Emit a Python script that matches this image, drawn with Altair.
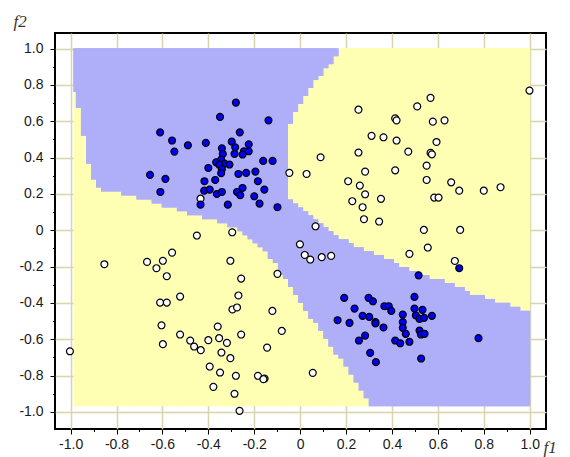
import altair as alt
import numpy as np
import pandas as pd

# ---- class "blue" samples (f1, f2)
blue_x = [-0.280, -0.349, -0.138, -0.263, -0.610, -0.558, -0.548, -0.489, -0.411, -0.298,
          -0.283, -0.224, -0.341, -0.245, -0.224, -0.286, -0.251, -0.337, -0.366, -0.344,
          -0.330, -0.308, -0.352, -0.400, -0.341, -0.344, -0.269, -0.235, -0.195, -0.161,
          -0.120, -0.417, -0.370, -0.184, -0.418, -0.394, -0.363, -0.341, -0.275, -0.261,
          -0.251, -0.156, -0.200, -0.177, -0.099, -0.315, -0.434, -0.654, -0.587, -0.609,
          0.693, 0.516, 0.192, 0.298, 0.317, 0.498, 0.237, 0.367, 0.386, 0.397,
          0.498, 0.533, 0.447, 0.504, 0.520, 0.540, 0.574, 0.272, 0.301, 0.163,
          0.215, 0.328, 0.328, 0.447, 0.447, 0.363, 0.520, 0.526, 0.542, 0.460,
          0.283, 0.256, 0.414, 0.436, 0.476, 0.305, 0.330, 0.527, 0.777]
blue_y = [0.703, 0.624, 0.605, 0.539, 0.539, 0.494, 0.433, 0.468, 0.481, 0.488,
          0.457, 0.473, 0.451, 0.435, 0.435, 0.420, 0.417, 0.420, 0.374, 0.389,
          0.367, 0.362, 0.360, 0.343, 0.336, 0.314, 0.310, 0.316, 0.323, 0.382,
          0.382, 0.270, 0.277, 0.270, 0.218, 0.224, 0.200, 0.211, 0.211, 0.193,
          0.233, 0.224, 0.187, 0.147, 0.127, 0.141, 0.141, 0.305, 0.283, 0.211,
          -0.209, -0.248, -0.372, -0.372, -0.391, -0.367, -0.431, -0.418, -0.418, -0.444,
          -0.431, -0.438, -0.464, -0.469, -0.488, -0.482, -0.471, -0.471, -0.477, -0.495,
          -0.510, -0.505, -0.513, -0.505, -0.537, -0.535, -0.552, -0.574, -0.570, -0.570,
          -0.580, -0.607, -0.607, -0.622, -0.614, -0.675, -0.726, -0.706, -0.594]

# ---- class "white" samples (f1, f2)
white_x = [0.999, 0.568, 0.510, 0.254, 0.414, 0.420, 0.578, 0.629, 0.311, 0.363,
           0.420, 0.594, 0.471, 0.254, 0.568, 0.574, 0.089, 0.551, -0.047, 0.028,
           0.283, 0.414, 0.209, 0.260, 0.283, 0.551, 0.658, 0.693, 0.800, 0.873,
           0.584, 0.603, 0.227, 0.352, 0.272, 0.278, 0.344, 0.067, 0.539, 0.697,
           0.556, 0.476, 0.674, -0.001, 0.020, 0.044, 0.094, 0.135, -0.434,
           -0.450, -0.296, -0.558, -0.667, -0.626, -0.598, -0.853, -0.581, -0.304, -0.257,
           -0.099, -0.523, -0.610, -0.581, -0.269, -0.295, -0.275, -0.121, -0.080, -0.604,
           -0.359, -0.523, -0.257, -0.598, -0.479, -0.462, -0.433, -0.400, -0.353, -0.319,
           -0.343, -0.304, -0.144, -0.394, -0.349, -0.280, -0.184, -0.155, -0.160, -0.378,
           -0.286, -0.264, -1.003, 0.055]
white_y = [0.769, 0.729, 0.682, 0.664, 0.616, 0.605, 0.598, 0.605, 0.520, 0.512,
           0.494, 0.486, 0.433, 0.428, 0.426, 0.418, 0.402, 0.356, 0.316, 0.310,
           0.323, 0.330, 0.270, 0.246, 0.198, 0.277, 0.264, 0.218, 0.218, 0.237,
           0.180, 0.180, 0.160, 0.173, 0.127, 0.061, 0.048, 0.022, 0.002, 0.002,
           -0.095, -0.130, -0.169, -0.077, -0.136, -0.161, -0.148, -0.141, 0.174,
           -0.029, -0.011, -0.123, -0.174, -0.209, -0.168, -0.187, -0.253, -0.168, -0.266,
           -0.240, -0.365, -0.398, -0.398, -0.359, -0.436, -0.425, -0.444, -0.554, -0.523,
           -0.530, -0.574, -0.574, -0.627, -0.607, -0.640, -0.660, -0.605, -0.594, -0.620,
           -0.673, -0.704, -0.646, -0.750, -0.783, -0.801, -0.801, -0.816, -0.820, -0.862,
           -0.900, -0.994, -0.666, -0.785]

# ---- outline of the "blue" decision region (clockwise)
region_x = [-1.020, 0.184, 0.163, 0.121, 0.076, 0.029, -0.014, -0.036, -0.061, -0.061,
            -0.036, 0.014, 0.080, 0.131, 0.200, 0.260, 0.330, 0.407, 0.494, 0.581,
            0.668, 0.741, 0.842, 0.929, 1.020, 1.020, 0.320, 0.285, 0.248, 0.219,
            0.190, 0.161, 0.132, 0.103, 0.074, 0.038, 0.009, -0.013, -0.042, -0.078,
            -0.108, -0.151, -0.174, -0.203, -0.247, -0.290, -0.349, -0.378, -0.465, -0.500,
            -0.573, -0.617, -0.683, -0.726, -0.790, -0.860, -0.875, -0.897, -0.915, -0.940,
            -0.962, -0.984, -1.020]
region_y = [1.020, 1.020, 0.967, 0.903, 0.829, 0.756, 0.655, 0.609, 0.527, 0.215,
            0.169, 0.105, 0.050, -0.005, -0.055, -0.095, -0.130, -0.171, -0.226, -0.262,
            -0.299, -0.345, -0.381, -0.422, -0.455, -0.990, -0.990, -0.914, -0.849, -0.785,
            -0.739, -0.684, -0.629, -0.583, -0.528, -0.473, -0.418, -0.363, -0.308, -0.253,
            -0.189, -0.124, -0.097, -0.051, -0.014, 0.013, 0.037, 0.059, 0.081, 0.101,
            0.123, 0.147, 0.169, 0.184, 0.206, 0.206, 0.233, 0.279, 0.325, 0.481,
            0.655, 0.765, 0.800]

tick_values = [-1.0, -0.9, -0.8, -0.7, -0.6, -0.5, -0.4, -0.3, -0.2, -0.1, 0.0,
               0.1, 0.2, 0.3, 0.4, 0.5, 0.6, 0.7, 0.8, 0.9, 1.0]

# evaluated area and its raster
AREA_X0, AREA_X1 = -0.988, 1.002
AREA_Y0, AREA_Y1 = -0.969, 1.004
GRID_X0, CELL_W, N_COLS = -0.999, 0.022, 91
GRID_Y0, CELL_H, N_ROWS = -0.969, 0.0219, 90

YELLOW = "#ffffb4"
LILAC = "#afaff9"


def inside(px, py, vx, vy):
    res = np.zeros(px.shape, dtype=bool)
    j = len(vx) - 1
    for i in range(len(vx)):
        xi, yi, xj, yj = vx[i], vy[i], vx[j], vy[j]
        if yi != yj:
            cross = ((yi > py) != (yj > py)) & (px < (xj - xi) * (py - yi) / (yj - yi) + xi)
            res ^= cross
        j = i
    return res


cx = GRID_X0 + CELL_W * (np.arange(N_COLS) + 0.5)
cy = GRID_Y0 + CELL_H * (np.arange(N_ROWS) + 0.5)
CX, CY = np.meshgrid(cx, cy, indexing="ij")
mask = inside(CX, CY, np.array(region_x), np.array(region_y))

# per column: list of blue runs (bottom, top)
col_runs = []
for i in range(N_COLS):
    col = mask[i]
    runs = []
    j = 0
    while j < N_ROWS:
        if col[j]:
            k = j
            while k < N_ROWS and col[k]:
                k += 1
            runs.append((GRID_Y0 + CELL_H * j, min(GRID_Y0 + CELL_H * k, AREA_Y1)))
            j = k
        else:
            j += 1
    col_runs.append(runs)

rect_rows = []
for i in range(N_COLS):
    x0 = max(GRID_X0 + CELL_W * i, AREA_X0)
    x1 = min(GRID_X0 + CELL_W * (i + 1), AREA_X1)
    for lo, hi in col_runs[i]:
        rect_rows.append({"x": x0, "x2": x1, "y": lo, "y2": hi})
cells = pd.DataFrame(rect_rows)


def step_table(part):
    idx = [i for i in range(N_COLS) if len(col_runs[i]) > part]
    rows = []
    for i in idx:
        lo, hi = col_runs[i][part]
        rows.append({"x": float(max(GRID_X0 + CELL_W * i, AREA_X0)), "lo": float(lo), "hi": float(hi)})
    if idx:
        lo, hi = col_runs[idx[-1]][part]
        rows.append({"x": float(min(GRID_X0 + CELL_W * (idx[-1] + 1), AREA_X1)),
                     "lo": float(lo), "hi": float(hi)})
    return pd.DataFrame(rows)


band_df = step_table(0)
notch_df = step_table(1)

area = pd.DataFrame({"x": [AREA_X0], "x2": [AREA_X1], "y": [AREA_Y0], "y2": [AREA_Y1]})
blue_df = pd.DataFrame({"x": blue_x, "y": blue_y})
white_df = pd.DataFrame({"x": white_x, "y": white_y})

major = "abs(round(datum.value * 10)) % 2 == 0"
label_expr = ("abs(datum.value) < 1e-6 ? '0' : (abs(round(datum.value * 10)) % 2 == 0 ? "
              "replace(format(datum.value, '.1f'), '\u2212', '-') : '')")

common = dict(
    values=tick_values, labelExpr=label_expr, labelOverlap=False, labelFlush=False,
    domain=False, grid=True, gridColor="#d8d4ad", gridWidth=1.5,
    gridOpacity={"condition": {"test": major, "value": 1}, "value": 0},
    tickColor="black", tickWidth=1,
    tickSize={"condition": {"test": major, "value": 5}, "value": 2.5},
    labelFont="Liberation Sans", labelFontSize=14, labelColor="#1a1a1a",
    titleFont="Liberation Serif", titleFontStyle="italic", titleFontWeight="normal",
    titleFontSize=17, titleColor="#333333", titleAngle=0,
    titleAlign="left", titleBaseline="alphabetic",
)
x_axis = alt.Axis(title="f1", labelPadding=3, titleX=488, titleY=23, **common)
y_axis = alt.Axis(title="f2", labelPadding=7, titleX=-42, titleY=-7, **common)

xs = alt.Scale(domain=[-1.068, 1.071], nice=False, zero=False)
ys = alt.Scale(domain=[-1.094, 1.086], nice=False, zero=False)

X = alt.X("x:Q", scale=xs, axis=x_axis)
Y = alt.Y("y:Q", scale=ys, axis=y_axis)
YLO = alt.Y("lo:Q", scale=ys, axis=y_axis)

bg = alt.Chart(area).mark_rect(color=YELLOW).encode(x=X, x2="x2:Q", y=Y, y2="y2:Q")
region_cells = alt.Chart(cells).mark_rect(color=LILAC).encode(x=X, x2="x2:Q", y=Y, y2="y2:Q")
band = alt.Chart(band_df).mark_area(color=LILAC, interpolate="step-after").encode(
    x=X, y=YLO, y2="hi:Q")
notch = alt.Chart(notch_df).mark_area(color=LILAC, interpolate="step-after").encode(
    x=X, y=YLO, y2="hi:Q")
whites = alt.Chart(white_df).mark_circle(fill="white", stroke="black", strokeWidth=1.2,
                                         size=48, opacity=1).encode(x=X, y=Y)
blues = alt.Chart(blue_df).mark_circle(fill="#0000f5", stroke="black", strokeWidth=1.2,
                                       size=48, opacity=1).encode(x=X, y=Y)

chart = alt.layer(bg, region_cells, band, notch, whites, blues).properties(
    width=491, height=396,
    padding={"left": 55, "top": 33, "right": 24, "bottom": 28},
    autosize=alt.AutoSizeParams(type="none"),
    background="white",
).configure_view(stroke="black", strokeWidth=2)

chart.save("out.html", embed_options={"renderer": "svg", "actions": False})
